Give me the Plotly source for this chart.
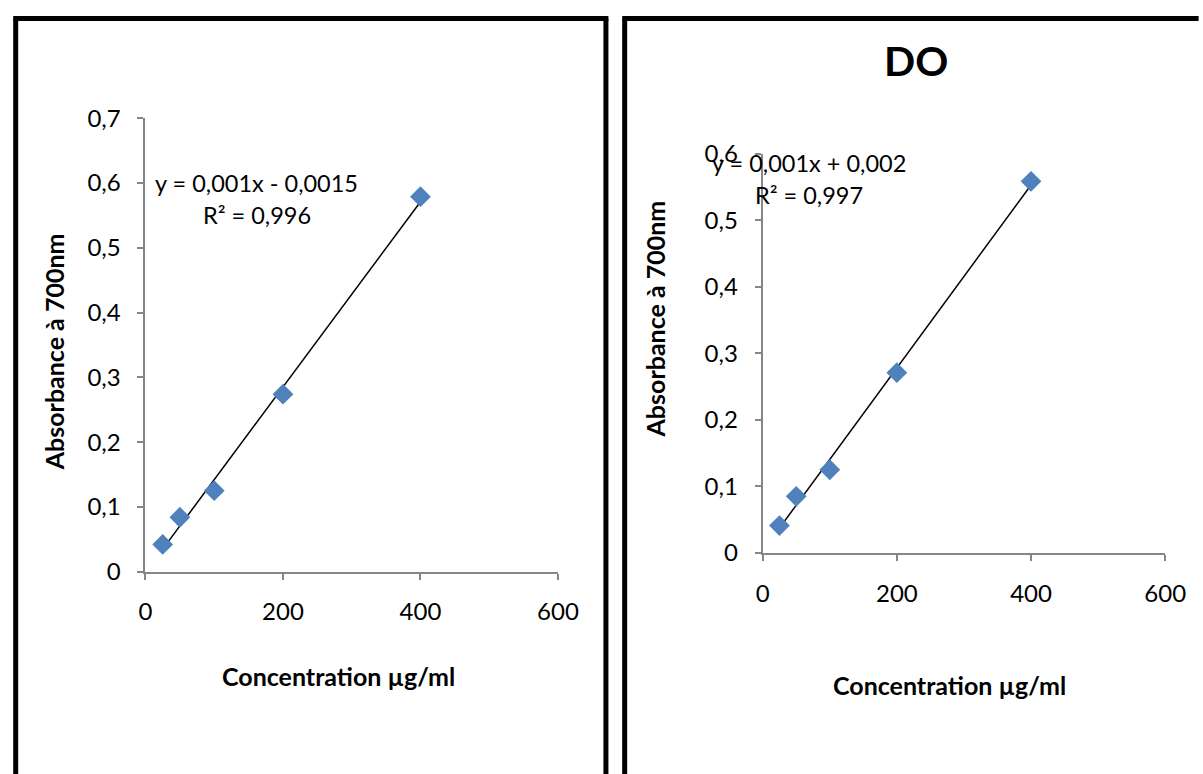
import numpy as np
import plotly.graph_objects as go

# Concentrations (µg/ml) and measured absorbances at 700 nm
concentration = [25, 50, 100, 200, 400]
absorbance_ref = [0.042, 0.084, 0.125, 0.274, 0.579]
absorbance_do = [0.041, 0.085, 0.125, 0.271, 0.559]

x_tick_vals = [0, 200, 400, 600]
x_tick_text = ["0", "200", "400", "600"]
y_tick_vals_ref = [0, 0.1, 0.2, 0.3, 0.4, 0.5, 0.6, 0.7]
y_tick_text_ref = ["0", "0,1", "0,2", "0,3", "0,4", "0,5", "0,6", "0,7"]
y_tick_vals_do = [0, 0.1, 0.2, 0.3, 0.4, 0.5, 0.6]
y_tick_text_do = ["0", "0,1", "0,2", "0,3", "0,4", "0,5", "0,6"]

eq_ref = ["y = 0,001x - 0,0015", "R² = 0,996"]
eq_do = ["y = 0,001x + 0,002", "R² = 0,997"]

W, H = 1203, 774
FONT = "Lato, 'Open Sans', sans-serif"
MARKER = "#4F81BD"
AXIS = "#868686"


def px(x):
    return x / W


def py(y):
    return 1 - y / H


fig = go.Figure()

panels = [
    (absorbance_ref, "x", "y"),
    (absorbance_do, "x2", "y2"),
]
for values, xa, ya in panels:
    slope, intercept = np.polyfit(concentration, values, 1)
    x_fit = [min(concentration), max(concentration)]
    y_fit = [slope * v + intercept for v in x_fit]
    fig.add_trace(go.Scatter(
        x=x_fit, y=y_fit, mode="lines", xaxis=xa, yaxis=ya,
        line=dict(color="black", width=1.5), showlegend=False, hoverinfo="skip",
    ))
    fig.add_trace(go.Scatter(
        x=concentration, y=values, mode="markers", xaxis=xa, yaxis=ya,
        marker=dict(symbol="diamond", size=16, color=MARKER, line=dict(width=0)),
        showlegend=False, cliponaxis=False,
    ))

axis_common = dict(
    showline=True, linecolor=AXIS, linewidth=2, ticks="outside", ticklen=6,
    tickcolor=AXIS, tickwidth=2, showgrid=False, zeroline=False,
    tickfont=dict(family=FONT, size=24, color="black"),
)

fig.update_layout(
    width=W, height=H, autosize=False,
    margin=dict(l=0, r=0, t=0, b=0),
    paper_bgcolor="white", plot_bgcolor="white",
    xaxis=dict(domain=[px(141.8), px(564.1)], range=[0, 600], anchor="y",
               tickvals=x_tick_vals, ticktext=x_tick_text,
               ticklabelstandoff=12, **axis_common),
    yaxis=dict(domain=[py(577.3), py(106.3)], range=[0, 0.7], anchor="x",
               tickvals=y_tick_vals_ref, ticktext=y_tick_text_ref,
               ticklabelstandoff=12, **axis_common),
    xaxis2=dict(domain=[px(773.7), px(1185.8)], range=[0, 600], anchor="y2",
                tickvals=x_tick_vals, ticktext=x_tick_text,
                ticklabelstandoff=12, **axis_common),
    yaxis2=dict(domain=[py(557.7), py(143.4)], range=[0, 0.6], anchor="x2",
                tickvals=y_tick_vals_do, ticktext=y_tick_text_do,
                ticklabelstandoff=12, **axis_common),
)

text_font = dict(family=FONT, size=23.5, color="black")
bold_font = dict(family=FONT, size=25, color="black", weight="bold")

annotations = [
    # regression labels
    dict(x=px(255.3), y=py(173.3), text=eq_ref[0], font=text_font),
    dict(x=px(256.3), y=py(206.3), text=eq_ref[1], font=text_font),
    dict(x=px(820.8), y=py(152.7), text=eq_do[0], font=text_font),
    dict(x=px(820.8), y=py(185.7), text=eq_do[1], font=text_font),
    # axis titles
    dict(x=px(339.2), y=py(685.6), text="Concentration µg/ml", font=bold_font),
    dict(x=px(964.9), y=py(694.8), text="Concentration µg/ml", font=bold_font),
    dict(x=px(49), y=py(348.5), text="Absorbance à 700nm", font=bold_font, textangle=-90),
    dict(x=px(663.3), y=py(314.4), text="Absorbance à 700nm", font=bold_font, textangle=-90),
    # chart title
    dict(x=px(930.2), y=py(46.5), text="DO",
         font=dict(family=FONT, size=41, color="black", weight="bold")),
]
for a in annotations:
    a.update(xref="paper", yref="paper", showarrow=False, xanchor="center", yanchor="middle")
fig.update_layout(annotations=annotations)

# panel frames (open at the bottom)
frame = dict(type="line", xref="paper", yref="paper", line=dict(color="black", width=5))
shapes = [
    dict(frame, x0=px(8.9), x1=px(8.9), y0=py(2.5), y1=py(800)),
    dict(frame, x0=px(6.4), x1=px(615.7), y0=py(2.5), y1=py(2.5)),
    dict(frame, x0=px(613.2), x1=px(613.2), y0=py(2.5), y1=py(800)),
    dict(frame, x0=px(632.4), x1=px(632.4), y0=py(2.5), y1=py(800)),
    dict(frame, x0=px(629.9), x1=px(1220), y0=py(2.5), y1=py(2.5)),
]
fig.update_layout(shapes=shapes)

fig.write_html("out.html")
